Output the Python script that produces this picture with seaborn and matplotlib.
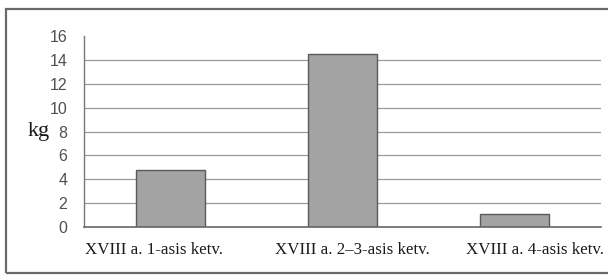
import matplotlib
matplotlib.use("Agg")
import matplotlib.pyplot as plt
import matplotlib.transforms as mtransforms
import seaborn as sns
import pandas as pd
from matplotlib.patches import Rectangle

sns.set_style("white")

categories = ["XVIII a. 1-asis ketv.", "XVIII a. 2\u20133-asis ketv.", "XVIII a. 4-asis ketv."]
values = [4.8, 14.5, 1.1]
y_ticks = [0, 2, 4, 6, 8, 10, 12, 14, 16]

df = pd.DataFrame({"period": categories, "kg": values})

fig = plt.figure(figsize=(6.08, 2.76), dpi=100)
ax = fig.add_axes([0.138, 0.1775, 0.8505, 0.692])

# gridlines (no line at the top value)
for t in y_ticks[1:-1]:
    ax.axhline(t, color="#9a9a9a", lw=0.9, zorder=0)

sns.barplot(
    data=df,
    x="period",
    y="kg",
    order=categories,
    color="#a3a3a3",
    edgecolor="#5a5a5a",
    linewidth=1.0,
    width=0.4,
    saturation=1,
    ax=ax,
    zorder=2,
)

ax.set_xlim(-0.5, 2.5)
ax.set_ylim(0, 16)
ax.set_yticks(y_ticks)
ax.set_yticklabels([str(t) for t in y_ticks], fontfamily="Liberation Sans",
                   fontsize=11.5, color="#505050")
ax.set_xticks(range(len(categories)))
ax.set_xticklabels(categories, fontfamily="Liberation Serif", fontsize=12.2,
                   color="#1a1a1a")
ax.tick_params(axis="y", length=0, pad=12)
ax.tick_params(axis="x", length=0, pad=11)
ax.set_xlabel("")
ax.set_ylabel("")

# labels in the original sit a bit off the bar centres
shifts = [-16, 10, 20]
for lab, dx in zip(ax.get_xticklabels(), shifts):
    off = mtransforms.ScaledTranslation(dx / 100, 0, fig.dpi_scale_trans)
    lab.set_transform(lab.get_transform() + off)

for side in ["top", "right"]:
    ax.spines[side].set_visible(False)
ax.spines["left"].set_color("#777777")
ax.spines["left"].set_linewidth(1.0)
ax.spines["bottom"].set_color("#666666")
ax.spines["bottom"].set_linewidth(1.2)

fig.text(0.063, 0.525, "kg", fontfamily="Liberation Serif", fontsize=16,
         color="#1a1a1a", ha="center", va="center")

# outer frame
fig.patches.append(Rectangle((0.01, 0.012), 1.2, 0.955, transform=fig.transFigure,
                             fill=False, edgecolor="#6a6a6a", lw=1.6))

fig.savefig("out.png", dpi=100, facecolor="white")
